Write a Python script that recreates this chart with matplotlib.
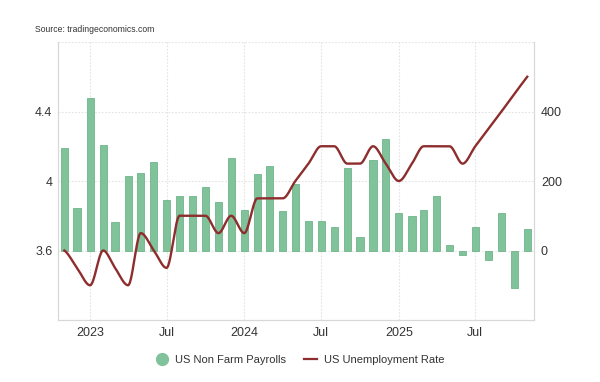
import numpy as np
import matplotlib
matplotlib.use("Agg")
import matplotlib.pyplot as plt
import matplotlib.dates as mdates
from matplotlib.lines import Line2D
import datetime as dt

plt.rcParams['font.family'] = ['Liberation Sans', 'DejaVu Sans']

# ---- data ----
months = ["2022-11", "2022-12",
          "2023-01", "2023-02", "2023-03", "2023-04", "2023-05", "2023-06",
          "2023-07", "2023-08", "2023-09", "2023-10", "2023-11", "2023-12",
          "2024-01", "2024-02", "2024-03", "2024-04", "2024-05", "2024-06",
          "2024-07", "2024-08", "2024-09", "2024-10", "2024-11", "2024-12",
          "2025-01", "2025-02", "2025-03", "2025-04", "2025-05", "2025-06",
          "2025-07", "2025-08", "2025-09", "2025-10", "2025-11"]
payrolls = [294, 123, 440, 305, 83, 213, 223, 256, 145, 156, 156, 183, 139, 267,
            117, 221, 242, 114, 190, 85, 85, 68, 237, 40, 259, 321,
            109, 98, 117, 156, 16, -14, 68, -28, 107, -107, 61]
unemployment = [3.6, 3.5, 3.4, 3.6, 3.5, 3.4, 3.7, 3.6, 3.5, 3.8, 3.8, 3.8, 3.7, 3.8,
                3.7, 3.9, 3.9, 3.9, 4.0, 4.1, 4.2, 4.2, 4.1, 4.1, 4.2, 4.1,
                4.0, 4.1, 4.2, 4.2, 4.2, 4.1, 4.2, 4.3, 4.4, 4.5, 4.6]
left_ticks = [3.6, 4.0, 4.4]
left_labels = ["3.6", "4", "4.4"]
right_ticks = [0, 200, 400]
right_labels = ["0", "200", "400"]
x_ticks = ["2023-01", "2023-07", "2024-01", "2024-07", "2025-01", "2025-07"]
x_labels = ["2023", "Jul", "2024", "Jul", "2025", "Jul"]

bar_color = "#80c29a"
bar_edge = "#70b68b"
line_color = "#8e2d2d"
grid_color = "#e3e3e3"
text_color = "#333333"


def to_date(s):
    y, m = s.split("-")
    return dt.datetime(int(y), int(m), 1)


dates = [to_date(m) for m in months]
xnum = mdates.date2num(dates)


def pchip(x, y, xs):
    x = np.asarray(x, float); y = np.asarray(y, float)
    h = np.diff(x); d = np.diff(y) / h
    n = len(x)
    m = np.zeros(n)
    for k in range(1, n - 1):
        if d[k - 1] * d[k] > 0:
            w1 = 2 * h[k] + h[k - 1]
            w2 = h[k] + 2 * h[k - 1]
            m[k] = (w1 + w2) / (w1 / d[k - 1] + w2 / d[k])
        else:
            m[k] = 0.0
    m[0] = d[0] * 0.5
    m[-1] = d[-1]
    out = np.empty_like(xs)
    idx = np.clip(np.searchsorted(x, xs) - 1, 0, n - 2)
    for i, xv in enumerate(xs):
        k = idx[i]
        t = (xv - x[k]) / h[k]
        h00 = 2 * t**3 - 3 * t**2 + 1
        h10 = t**3 - 2 * t**2 + t
        h01 = -2 * t**3 + 3 * t**2
        h11 = t**3 - t**2
        out[i] = h00 * y[k] + h10 * h[k] * m[k] + h01 * y[k + 1] + h11 * h[k] * m[k + 1]
    return out


fig = plt.figure(figsize=(6.0, 3.82), dpi=100)
ax = fig.add_axes([58 / 600, 1 - 320 / 382, (534 - 58) / 600, (320 - 42) / 382])
ax2 = ax.twinx()

# bars on right axis
ax2.bar(dates, payrolls, width=17, color=bar_color, edgecolor=bar_edge, linewidth=0.6, zorder=2)
ax2.set_ylim(-200, 600)
ax2.set_yticks(right_ticks)
ax2.set_yticklabels(right_labels)

# line on left axis
xs = np.linspace(xnum[0], xnum[-1], 1500)
ys = pchip(xnum, unemployment, xs)
ax.plot(mdates.num2date(xs), ys, color=line_color, linewidth=1.7, zorder=5)
ax.set_ylim(3.2, 4.8)
ax.set_yticks(left_ticks)
ax.set_yticklabels(left_labels)

ax.set_zorder(ax2.get_zorder() + 1)
ax.patch.set_visible(False)
ax2.patch.set_visible(True)
ax2.patch.set_facecolor("white")

ax.set_xlim(dt.datetime(2022, 10, 17), dt.datetime(2025, 11, 17))
ax.set_xticks([to_date(t) for t in x_ticks])
ax.set_xticklabels(x_labels)

# grid lines (drawn on bar axis, behind bars)
for v in right_ticks + [600]:
    ax2.axhline(v, color=grid_color, linewidth=0.8, linestyle=(0, (1.5, 1.5)), zorder=0)
for t in x_ticks:
    ax2.axvline(to_date(t), color=grid_color, linewidth=0.8, linestyle=(0, (1.5, 1.5)), zorder=0)

for a in (ax, ax2):
    a.spines["top"].set_visible(False)
    for s in ("left", "right", "bottom"):
        a.spines[s].set_color("#d8d8d8")
        a.spines[s].set_linewidth(0.8)

ax.tick_params(axis="y", length=0, pad=4, labelsize=9, labelcolor=text_color)
ax2.tick_params(axis="y", length=0, pad=5, labelsize=9, labelcolor=text_color)
ax.tick_params(axis="x", length=0, pad=5, labelsize=9, labelcolor=text_color)

fig.text(35 / 600, 1 - 30 / 382, "Source: tradingeconomics.com", fontsize=6.2, color=text_color,
         va="center", ha="left")

handles = [Line2D([0], [0], marker="o", linestyle="none", markersize=8.5,
                  markerfacecolor=bar_color, markeredgecolor=bar_color),
           Line2D([0], [0], color=line_color, linewidth=1.6)]
fig.legend(handles, ["US Non Farm Payrolls", "US Unemployment Rate"], loc="center",
           bbox_to_anchor=(0.5, 1 - 360 / 382), ncol=2, frameon=False, fontsize=8,
           handlelength=1.2, columnspacing=1.6, handletextpad=0.6,
           labelcolor=text_color)

fig.savefig("out.png", dpi=100, facecolor="white")
